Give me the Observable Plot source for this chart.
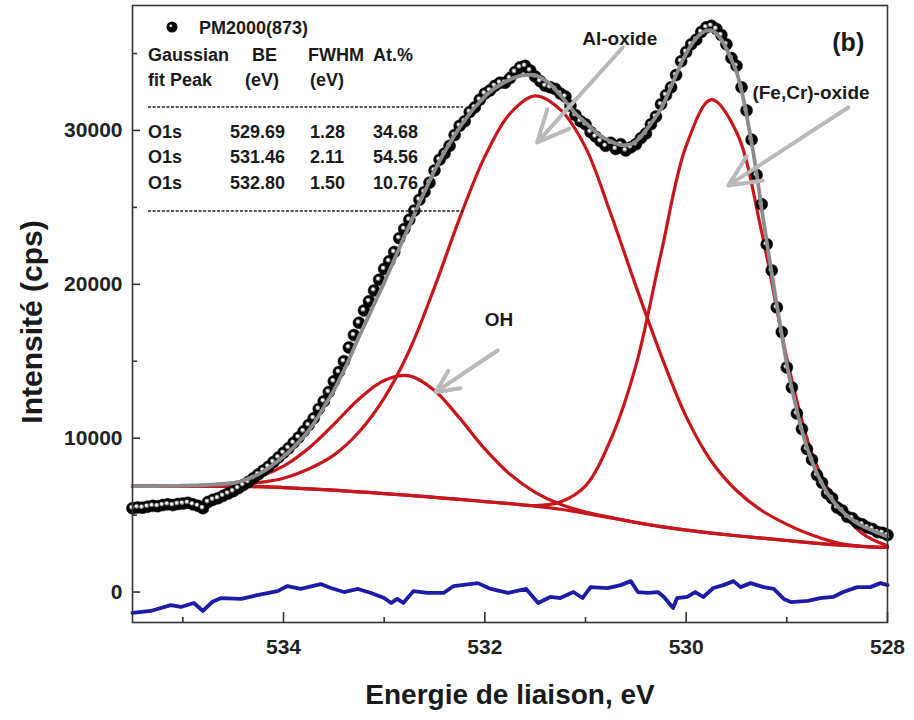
<!DOCTYPE html>
<html><head><meta charset="utf-8">
<script src="https://cdn.jsdelivr.net/npm/d3@7"></script>
<script src="https://cdn.jsdelivr.net/npm/@observablehq/plot@0.6"></script>
<style>
body{margin:0;background:#fff;}
#chart svg{display:block;}
</style></head><body><div id="chart"></div>
<script>
// ---- fitted components (binding energy grid, eV) ----
const gridE = [535.5,535.25,535.0,534.75,534.5,534.25,534.0,533.75,533.5,533.25,533.0,532.75,532.5,532.25,532.0,531.75,531.5,531.25,531.0,530.75,530.5,530.25,530.0,529.75,529.5,529.25,529.0,528.75,528.5,528.25,528.0];
const background = [6880,6880,6880,6870,6860,6850,6790,6710,6620,6510,6400,6280,6150,6020,5880,5740,5580,5380,5110,4820,4520,4250,4020,3830,3660,3500,3350,3200,3060,2960,2900];
const peakOH = [6880,6885,6900,6950,7100,7480,8190,9350,10900,12550,13750,14050,13100,11300,9300,7650,6480,5700,5200,4850,4530,4250,4020,3830,3660,3500,3350,3200,3060,2960,2900];
const peakAl = [6880,6885,6894,6910,6965,7107,7400,8000,8900,10400,12600,15700,19800,24300,28300,31100,32250,31350,28900,24600,19900,15400,11400,8500,6600,5300,4400,3700,3200,2970,2900];
const peakFeCr = [6880,6880,6880,6870,6860,6850,6790,6710,6620,6510,6400,6280,6150,6020,5880,5745,5620,5850,6900,9900,14700,22000,29000,32000,29900,23400,15200,9000,5700,3800,3000];

// ---- measured points and envelope (eV) ----
const dataE = [
535.5,535.45,535.4,535.35,535.3,535.25,535.2,535.15,535.1,535.05,
535,534.95,534.9,534.85,534.8,534.75,534.7,534.65,534.6,534.55,
534.5,534.45,534.4,534.35,534.3,534.25,534.2,534.15,534.1,534.05,
534,533.95,533.9,533.85,533.8,533.75,533.7,533.65,533.6,533.55,
533.5,533.45,533.4,533.35,533.3,533.25,533.2,533.15,533.1,533.05,
533,532.95,532.9,532.85,532.8,532.75,532.7,532.65,532.6,532.55,
532.5,532.45,532.4,532.35,532.3,532.25,532.2,532.15,532.1,532.05,
532,531.95,531.9,531.85,531.8,531.75,531.7,531.65,531.6,531.55,
531.5,531.45,531.4,531.35,531.3,531.25,531.2,531.15,531.1,531.05,
531,530.95,530.9,530.85,530.8,530.75,530.7,530.65,530.6,530.55,
530.5,530.45,530.4,530.35,530.3,530.25,530.2,530.15,530.1,530.05,
530,529.95,529.9,529.85,529.8,529.75,529.7,529.65,529.6,529.55,
529.5,529.45,529.4,529.35,529.3,529.25,529.2,529.15,529.1,529.05,
529,528.95,528.9,528.85,528.8,528.75,528.7,528.65,528.6,528.55,
528.5,528.45,528.4,528.35,528.3,528.25,528.2,528.15,528.1,528.05,
528];
const dataV = [
5450,5500,5480,5550,5600,5580,5650,5700,5650,5720,
5750,5800,5700,5600,5450,5850,6000,6100,6250,6400,
6550,6750,6950,7150,7400,7650,7900,8150,8450,8750,
9050,9350,9700,10050,10450,10850,11300,11900,12400,13000,
13700,14300,15000,15900,16700,17500,18300,18900,19600,20300,
21000,21500,22100,23000,23600,24200,24800,25500,26000,26600,
27400,28100,28500,29000,29700,30300,30600,31200,31500,32000,
32400,32600,32900,33100,33100,33400,33800,34100,34200,33900,
33500,33200,32900,32800,32700,32400,32200,31600,31000,30600,
30400,29900,29600,29300,29000,29200,28800,29100,28700,28900,
29100,29500,29800,30400,30900,31700,32300,32800,33600,34500,
35100,35600,35900,36400,36700,36800,36600,36200,35600,34700,
34200,32800,31300,29400,27100,25200,22600,20900,18500,16900,
14600,13300,11600,10600,9300,8600,7600,7100,6400,6100,
5500,5300,4900,4800,4500,4400,4200,4100,3900,3850,
3700];
const envelope = [
6880,6880,6882,6885,6887,6890,6893,6897,6901,6905,
6910,6918,6926,6936,6946,6960,6980,7005,7030,7055,
7080,7150,7250,7370,7500,7650,7850,8050,8300,8550,
8800,9100,9400,9750,10100,10500,10950,11450,12000,12550,
13100,13750,14400,15100,15850,16600,17300,18000,18700,19400,
20100,20850,21600,22350,23100,23800,24550,25300,26000,26700,
27400,28000,28600,29150,29700,30200,30650,31100,31500,31850,
32200,32500,32750,32950,33150,33300,33450,33550,33600,33620,
33600,33450,33250,33000,32650,32300,31900,31500,31100,30800,
30500,30200,29900,29650,29450,29300,29150,29050,29050,29100,
29300,29600,30000,30450,30900,31400,32100,32850,33600,34350,
35000,35550,36000,36300,36480,36500,36300,35900,35300,34600,
33800,32600,31000,29200,27200,24900,22800,20700,18700,16700,
14800,13200,11800,10500,9400,8500,7700,7050,6450,6000,
5600,5250,4950,4700,4480,4300,4150,4000,3850,3720,
3600];

// ---- residual ----
const resE = [535.5,535.32,535.12,535.02,534.89,534.8,534.71,534.62,534.42,534.26,534.06,533.96,533.83,533.63,533.53,533.4,533.26,533.13,533.0,532.93,532.87,532.81,532.71,532.57,532.41,532.31,532.07,531.94,531.77,531.59,531.47,531.35,531.25,531.12,531.03,530.95,530.78,530.65,530.55,530.48,530.38,530.28,530.22,530.13,530.09,529.99,529.91,529.83,529.73,529.63,529.53,529.46,529.36,529.23,529.13,529.03,528.96,528.79,528.67,528.54,528.44,528.3,528.17,528.07,528.0];
const resV = [-1360,-1230,-850,-970,-710,-1230,-650,-390,-450,-200,60,390,200,520,260,0,200,-60,-390,-710,-450,-710,60,-60,-60,390,580,200,-60,200,-710,-320,-390,0,-390,320,260,450,710,0,-60,0,-320,-1040,-390,-320,0,-320,260,450,710,320,580,320,200,-450,-650,-580,-390,-320,0,320,320,580,450];

// ---- axes ----
const xMajor = [534,532,530,528];
const xMinor = [535,533,531,529];
const yMajor = [0,10000,20000,30000];
const yMinor = [5000,15000,25000,35000];

// ---- annotations ----
const annText = ["Al-oxide","(Fe,Cr)-oxide","OH","(b)"];
const annE = [530.66,528.76,531.86,528.39];
const annV = [35974,32468,17662,35714];
const annSize = [19,19,19,25];
const arrE1 = [530.63,528.39,531.87];
const arrV1 = [35390,31494,15714];
const arrE2 = [531.48,529.58,532.49];
const arrV2 = [29221,26428,12987];

// ---- inset table ----
const legendName = "PM2000(873)";
const head1 = ["Gaussian","BE","FWHM","At.%"];
const head2 = ["fit Peak","(eV)","(eV)",""];
const peakName = ["O1s","O1s","O1s"];
const peakBE = ["529.69","531.46","532.80"];
const peakFWHM = ["1.28","2.11","1.50"];
const peakAt = ["34.68","54.56","10.76"];

const comp = gridE.map((E,i)=>({E, bg:background[i], oh:peakOH[i], al:peakAl[i], fe:peakFeCr[i]}));
const pts = dataE.map((E,i)=>({E, v:dataV[i], f:envelope[i]}));
const res = resE.map((E,i)=>({E, v:resV[i]}));
const ann = annText.map((t,i)=>({t, E:annE[i], v:annV[i], s:annSize[i]}));
const arr = arrE1.map((e,i)=>({x1:e, y1:arrV1[i], x2:arrE2[i], y2:arrV2[i]}));

const RED = "#c8161d";
const W = 914, H = 720, mL = 132, mR = 27, mT = 5, mB = 98;
const fw = W - mL - mR, fh = H - mT - mB;
const font = "'Liberation Sans', Arial, Helvetica, sans-serif";

const redLine = key => Plot.line(comp, {x:"E", y:key, stroke:RED, strokeWidth:3.2, curve:"catmull-rom"});

const plot = Plot.plot({
  width: W, height: H,
  marginLeft: mL, marginRight: mR, marginTop: mT, marginBottom: mB,
  style: {fontFamily: font, fontSize: "21px", fontWeight: "bold", color: "#222", background: "#fff"},
  x: {domain: [535.5, 528]},
  y: {domain: [-1980, 38120]},
  marks: [
    redLine("bg"), redLine("oh"), redLine("al"), redLine("fe"),
    Plot.dot(pts, {x:"E", y:"v", r:6, fill:"#050505", stroke:"#000", strokeWidth:0.5}),
    Plot.dot(pts, {x:"E", y:"v", r:2.4, fill:"#8a8a8a", dx:-1, dy:-1}),
    Plot.dot(pts, {x:"E", y:"v", r:1.4, fill:"#ffffff", dx:-1.2, dy:-1.2}),
    Plot.line(pts, {x:"E", y:"f", stroke:"#8c8c8c", strokeWidth:3.8, curve:"catmull-rom"}),
    Plot.line(res, {x:"E", y:"v", stroke:"#1c1ca6", strokeWidth:3.8, strokeLinejoin:"round"}),
    Plot.arrow(arr, {x1:"x1", y1:"y1", x2:"x2", y2:"y2", stroke:"#b9b9b9", strokeWidth:4, headLength:13, headAngle:50}),
    Plot.text(ann, {x:"E", y:"v", text:"t", fontSize:d=>d.s, fill:"#1a1a1a", fontWeight:"bold"}),
    Plot.frame({stroke:"#333", strokeWidth:1.6}),
    Plot.tickX(xMajor, {x:d=>d, insetTop: fh-10, stroke:"#333", strokeWidth:1.6}),
    Plot.tickX(xMinor, {x:d=>d, insetTop: fh-5, stroke:"#333", strokeWidth:1.6}),
    Plot.tickY(yMajor, {y:d=>d, insetRight: fw-8, stroke:"#333", strokeWidth:1.6}),
    Plot.tickY(yMinor, {y:d=>d, insetRight: fw-5, stroke:"#333", strokeWidth:1.6}),
    Plot.axisX(xMajor, {tickSize:0, tickPadding:17, tickFormat:d=>String(d), label:null, fontSize:21, fill:"#222"}),
    Plot.axisY(yMajor, {tickSize:0, tickPadding:10, tickFormat:d=>String(d), label:null, fontSize:21, fill:"#222"}),
    Plot.text(["Energie de liaison, eV"], {frameAnchor:"bottom", dy:73, lineAnchor:"middle", textAnchor:"middle", fontSize:28, fontWeight:"bold", fill:"#1a1a1a"}),
    Plot.text(["Intensité (cps)"], {frameAnchor:"left", dx:-100, dy:8, textAnchor:"middle", lineAnchor:"middle", rotate:-90, fontSize:30, fontWeight:"bold", fill:"#1a1a1a"})
  ]
});
document.getElementById("chart").appendChild(plot);

// inset table (annotation overlay)
const svg = d3.select(plot);
const g = svg.append("g").attr("font-family", font).attr("font-weight","bold").attr("font-size", 18).attr("fill","#1a1a1a").attr("text-anchor","start");
g.append("circle").attr("cx",172).attr("cy",27).attr("r",5.5).attr("fill","#050505");
g.append("circle").attr("cx",170.8).attr("cy",25.8).attr("r",1.4).attr("fill","#fff");
g.append("text").attr("x",199).attr("y",28).attr("dy","0.35em").text(legendName);
const hx1 = [148,252,308,373], hx2 = [148,245,310,373];
head1.forEach((t,i)=>g.append("text").attr("x",hx1[i]).attr("y",55).attr("dy","0.35em").text(t));
head2.forEach((t,i)=>g.append("text").attr("x",hx2[i]).attr("y",80).attr("dy","0.35em").text(t));
const rowY = [132,157,183];
const cx = [148,230,310,373];
peakName.forEach((t,i)=>{
  [t, peakBE[i], peakFWHM[i], peakAt[i]].forEach((s,j)=>g.append("text").attr("x",cx[j]).attr("y",rowY[i]).attr("dy","0.35em").text(s));
});
[107,211].forEach(y=>g.append("line").attr("x1",148).attr("x2",463).attr("y1",y).attr("y2",y).attr("stroke","#222").attr("stroke-width",1.3).attr("stroke-dasharray","3,1.6"));
</script>
</body></html>
